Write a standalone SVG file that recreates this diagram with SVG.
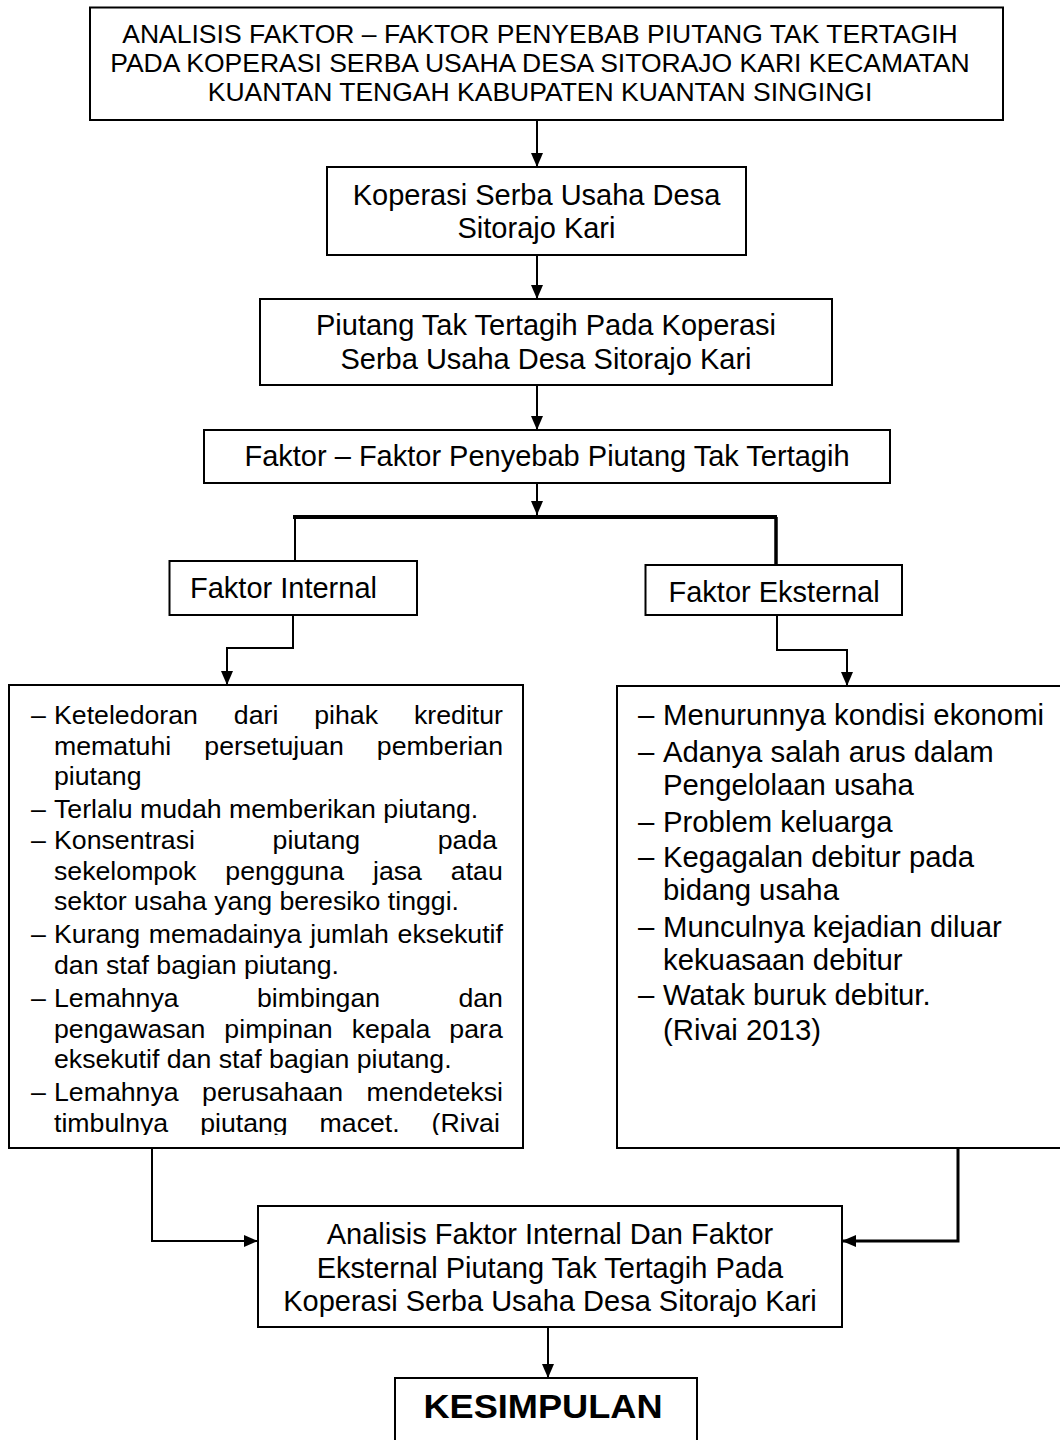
<svg xmlns="http://www.w3.org/2000/svg" width="1060" height="1440" viewBox="0 0 1060 1440">
<style>
.box{fill:#fff;stroke:#000;stroke-width:2}
.t{font-family:"Liberation Sans",Arial,sans-serif;fill:#000}
.c{text-anchor:middle}
.title{font-size:26.5px}
.n{font-size:29px}
.l{font-size:26.7px}
.r{font-size:29.3px}
.k{font-size:34px;font-weight:bold}
.ln{fill:none;stroke:#000;stroke-width:2}
</style>
<defs>
<marker id="arr" viewBox="0 0 14 12" refX="14" refY="6" markerWidth="14" markerHeight="12" orient="auto" markerUnits="userSpaceOnUse"><path d="M0,0 L14,6 L0,12 z" fill="#000"/></marker>
<clipPath id="clipL"><rect x="9" y="686" width="513" height="449"/></clipPath>
</defs>
<rect width="1060" height="1440" fill="#fff"/>

<g id="connectors">
<path class="ln" d="M537,120 V167" marker-end="url(#arr)"/>
<path class="ln" d="M537,255 V299" marker-end="url(#arr)"/>
<path class="ln" d="M537,385 V430" marker-end="url(#arr)"/>
<path class="ln" d="M537,483 V515" marker-end="url(#arr)"/>
<path class="ln" d="M293,517 H777" style="stroke-width:4"/>
<path class="ln" d="M295,517 V561"/>
<path class="ln" d="M776,517 V565" style="stroke-width:3.5"/>
<path class="ln" d="M293,615 V648 H227 V685" marker-end="url(#arr)"/>
<path class="ln" d="M777,615 V650 H847 V686" marker-end="url(#arr)"/>
<path class="ln" d="M152,1148 V1241 H258" marker-end="url(#arr)"/>
<path class="ln" d="M958,1148 V1241 H842" style="stroke-width:3" marker-end="url(#arr)"/>
<path class="ln" d="M548,1327 V1378" marker-end="url(#arr)"/>
</g>

<g id="title">
<rect class="box" x="90" y="7.5" width="913" height="112.5"/>
<text class="t c title" x="540" y="43.3">ANALISIS FAKTOR – FAKTOR PENYEBAB PIUTANG TAK TERTAGIH</text>
<text class="t c title" x="540" y="72">PADA KOPERASI SERBA USAHA DESA SITORAJO KARI KECAMATAN</text>
<text class="t c title" x="540" y="100.5">KUANTAN TENGAH KABUPATEN KUANTAN SINGINGI</text>
</g>

<g id="koperasi">
<rect class="box" x="327" y="167" width="419" height="88"/>
<text class="t c n" x="536.5" y="205">Koperasi Serba Usaha Desa</text>
<text class="t c n" x="536.5" y="238">Sitorajo Kari</text>
</g>

<g id="piutang">
<rect class="box" x="260" y="299" width="572" height="86"/>
<text class="t c n" x="546" y="335">Piutang Tak Tertagih Pada Koperasi</text>
<text class="t c n" x="546" y="369">Serba Usaha Desa Sitorajo Kari</text>
</g>

<g id="faktor">
<rect class="box" x="204" y="430" width="686" height="53"/>
<text class="t c n" x="547" y="466">Faktor – Faktor Penyebab Piutang Tak Tertagih</text>
</g>

<g id="internal">
<rect class="box" x="169.5" y="561" width="247.5" height="54"/>
<text class="t n" x="190" y="598">Faktor Internal</text>
</g>

<g id="eksternal">
<rect class="box" x="645.5" y="565" width="256.5" height="50"/>
<text class="t n" x="668.5" y="602">Faktor Eksternal</text>
</g>

<g id="list-internal">
<rect class="box" x="9" y="685" width="514" height="463"/>
<g clip-path="url(#clipL)">
<text class="t l" x="31" y="724">–</text>
<text class="t l" x="54" y="724" word-spacing="28.5">Keteledoran dari pihak kreditur</text>
<text class="t l" x="54" y="754.5" word-spacing="25.7">mematuhi persetujuan pemberian</text>
<text class="t l" x="54" y="785">piutang</text>
<text class="t l" x="31" y="818">–</text>
<text class="t l" x="54" y="818">Terlalu mudah memberikan piutang.</text>
<text class="t l" x="31" y="849">–</text>
<text class="t l" x="54" y="849" word-spacing="70.2">Konsentrasi piutang pada</text>
<text class="t l" x="54" y="879.5" word-spacing="21.5">sekelompok pengguna jasa atau</text>
<text class="t l" x="54" y="910">sektor usaha yang beresiko tinggi.</text>
<text class="t l" x="31" y="943">–</text>
<text class="t l" x="54" y="943" word-spacing="1.3">Kurang memadainya jumlah eksekutif</text>
<text class="t l" x="54" y="973.5">dan staf bagian piutang.</text>
<text class="t l" x="31" y="1007">–</text>
<text class="t l" x="54" y="1007" word-spacing="70.9">Lemahnya bimbingan dan</text>
<text class="t l" x="54" y="1037.5" word-spacing="11.6">pengawasan pimpinan kepala para</text>
<text class="t l" x="54" y="1068">eksekutif dan staf bagian piutang.</text>
<text class="t l" x="31" y="1101">–</text>
<text class="t l" x="54" y="1101" word-spacing="16">Lemahnya perusahaan mendeteksi</text>
<text class="t l" x="54" y="1131.5" word-spacing="24.5">timbulnya piutang macet. (Rivai</text>
</g>
</g>

<g id="list-eksternal">
<rect class="box" x="617" y="686" width="460" height="462"/>
<text class="t r" x="638" y="725">–</text>
<text class="t r" x="663" y="725">Menurunnya kondisi ekonomi</text>
<text class="t r" x="638" y="762">–</text>
<text class="t r" x="663" y="762">Adanya salah arus dalam</text>
<text class="t r" x="663" y="795">Pengelolaan usaha</text>
<text class="t r" x="638" y="832">–</text>
<text class="t r" x="663" y="832">Problem keluarga</text>
<text class="t r" x="638" y="867">–</text>
<text class="t r" x="663" y="867">Kegagalan debitur pada</text>
<text class="t r" x="663" y="900">bidang usaha</text>
<text class="t r" x="638" y="937">–</text>
<text class="t r" x="663" y="937">Munculnya kejadian diluar</text>
<text class="t r" x="663" y="970">kekuasaan debitur</text>
<text class="t r" x="638" y="1005">–</text>
<text class="t r" x="663" y="1005">Watak buruk debitur.</text>
<text class="t r" x="663" y="1040">(Rivai 2013)</text>
</g>

<g id="analisis">
<rect class="box" x="258" y="1206" width="584" height="121"/>
<text class="t c n" x="550" y="1244">Analisis Faktor Internal Dan Faktor</text>
<text class="t c n" x="550" y="1277.5">Eksternal Piutang Tak Tertagih Pada</text>
<text class="t c n" x="550" y="1311">Koperasi Serba Usaha Desa Sitorajo Kari</text>
</g>

<g id="kesimpulan">
<rect class="box" x="395" y="1378" width="302" height="80"/>
<text class="t c k" x="543" y="1418" textLength="239" lengthAdjust="spacingAndGlyphs">KESIMPULAN</text>
</g>
</svg>
